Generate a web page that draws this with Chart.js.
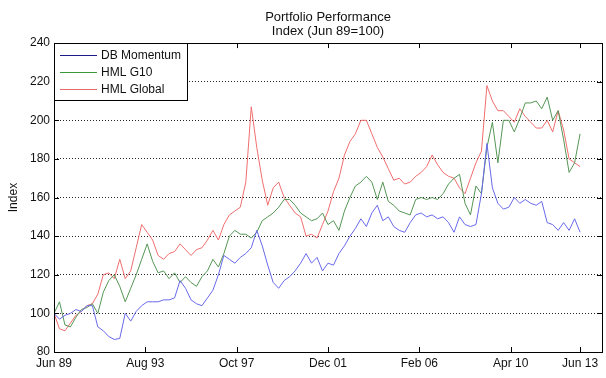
<!DOCTYPE html>
<html>
<head>
<meta charset="utf-8">
<script src="https://cdn.jsdelivr.net/npm/chart.js@4.4.1/dist/chart.umd.min.js"></script>
<style>
  html, body { margin: 0; padding: 0; background: #fff; }
  #wrap { width: 606px; height: 378px; }
</style>
</head>
<body>
<div id="wrap"><canvas id="grafico"></canvas></div>
<script>
// index values, one every 3 months starting Jun 89 (=100)
const monthStep = 3;
const seriesNames = ['DB Momentum', 'HML G10', 'HML Global'];

const dbMomentum = [
  100, 97, 99, 100, 102, 101, 104, 104, 93, 91, 88, 86.5,
  87, 100, 96, 101, 104, 106, 106, 106, 107, 107, 108, 117,
  113, 107, 105, 104, 108, 112, 120, 130, 128, 126, 129, 131,
  134, 143, 135, 125, 116, 113, 117, 119, 122, 126, 131, 126,
  129, 122, 126, 125, 131, 135, 140, 144, 149, 145, 152, 156,
  148, 150, 145, 143, 142, 147, 151, 152, 150, 151, 149, 150,
  147, 142, 150, 146, 145, 146, 162, 188, 165, 157, 154, 155,
  160, 157, 159, 157, 156, 158, 147, 146, 143, 147, 143, 149,
  142
];
const hmlG10 = [
  100, 106, 94, 93, 98, 102, 103, 105, 100, 111, 117, 120,
  114, 106, 113, 120, 128, 136, 127, 121, 122, 118, 121, 116,
  119, 116, 114, 119, 122, 128, 124, 131, 140, 143, 141, 141,
  139, 142, 148, 150, 152, 155, 159, 159, 156, 152, 150, 148,
  149, 152, 146, 148, 143, 153, 160, 166, 168, 171, 168, 159,
  168, 158, 156, 153, 152, 151, 159, 160, 159, 160, 159, 162,
  167, 170, 172, 157, 151, 166, 162, 186, 199, 178, 200, 200,
  194, 201, 209, 209, 210, 206, 212, 200, 205, 190, 173, 178,
  193
];
const hmlGlobal = [
  100, 92, 91, 95, 99, 101, 104, 105, 110, 120, 121, 118,
  128, 118, 122, 134, 146, 142, 138, 130, 128, 131, 132, 136,
  133, 130, 133, 134, 138, 143, 138, 146, 151, 153, 155, 168,
  207, 186, 169, 156, 165, 168, 160, 156, 152, 150, 140, 141,
  139, 146, 153, 163, 170, 182, 189, 193, 200, 200, 193, 186,
  181, 175, 169, 170, 167, 168, 171, 173, 176, 182, 177, 173,
  171, 170, 165, 162, 170, 178, 184, 218, 210, 205, 205, 202,
  199, 206, 202, 199, 196, 196, 200, 194, 205, 195, 180, 178,
  176
];

const xTickMonths = [0, 50, 100, 150, 200, 250, 288];
const xTickLabels = ['Jun 89', 'Aug 93', 'Oct 97', 'Dec 01', 'Feb 06', 'Apr 10', 'Jun 13'];
const yTicks = [80, 100, 120, 140, 160, 180, 200, 220, 240];

const lineColors = ['rgb(105,105,235)', 'rgb(85,150,85)', 'rgb(240,110,110)'];
const legendColors = ['#1c1c8c', '#3a9a3a', '#e66a6a'];
const fam = '"Liberation Sans", Arial, Helvetica, sans-serif';

function toPoints(values) {
  return values.map((v, i) => ({ x: i * monthStep, y: v }));
}

// frame, inward tick marks and the boxed legend
const marcoPlugin = {
  id: 'marco',
  afterDatasetsDraw(chart) {
    const { ctx, chartArea: a, scales } = chart;
    const x = scales.x, y = scales.y;
    ctx.save();
    ctx.strokeStyle = '#000';
    ctx.lineWidth = 1;
    ctx.beginPath();
    xTickMonths.forEach(m => {
      const px = Math.round(x.getPixelForValue(m)) + 0.5;
      ctx.moveTo(px, a.bottom); ctx.lineTo(px, a.bottom - 5);
      ctx.moveTo(px, a.top); ctx.lineTo(px, a.top + 5);
    });
    yTicks.forEach(v => {
      const py = Math.round(y.getPixelForValue(v)) + 0.5;
      ctx.moveTo(a.left, py); ctx.lineTo(a.left + 5, py);
      ctx.moveTo(a.right, py); ctx.lineTo(a.right - 5, py);
    });
    ctx.stroke();
    ctx.strokeRect(Math.round(a.left) + 0.5, Math.round(a.top) + 0.5,
      Math.round(a.right - a.left), Math.round(a.bottom - a.top));

    const lx = Math.round(a.left), ly = Math.round(a.top), lw = 133, lh = 57;
    ctx.fillStyle = '#fff';
    ctx.fillRect(lx, ly, lw, lh);
    ctx.strokeRect(lx + 0.5, ly + 0.5, lw, lh);
    ctx.font = '12px ' + fam;
    ctx.textBaseline = 'middle';
    chart.data.datasets.forEach((ds, i) => {
      const yy = ly + 12 + i * 17;
      ctx.strokeStyle = legendColors[i];
      ctx.beginPath();
      ctx.moveTo(lx + 6, yy + 0.5);
      ctx.lineTo(lx + 43, yy + 0.5);
      ctx.stroke();
      ctx.fillStyle = '#111';
      ctx.fillText(ds.label, lx + 47, yy + 1);
    });
    ctx.restore();
  }
};

const ctx = document.getElementById('grafico').getContext('2d');
new Chart(ctx, {
  type: 'line',
  data: {
    datasets: [dbMomentum, hmlG10, hmlGlobal].map((vals, i) => ({
      label: seriesNames[i],
      data: toPoints(vals),
      borderColor: lineColors[i],
      borderWidth: 1,
      pointRadius: 0,
      tension: 0,
      fill: false
    }))
  },
  options: {
    responsive: true,
    maintainAspectRatio: false,
    animation: false,
    layout: { padding: { left: 0, right: 4, top: 0, bottom: 0 } },
    plugins: {
      legend: { display: false },
      tooltip: { enabled: false },
      title: {
        display: true,
        text: ['Portfolio Performance', 'Index (Jun 89=100)'],
        fullSize: false,
        color: '#111',
        font: { family: fam, size: 13, weight: 'normal', lineHeight: 1.08 },
        padding: { top: 10, bottom: 5 }
      }
    },
    scales: {
      x: {
        type: 'linear',
        min: 0,
        max: 300,
        afterBuildTicks: axis => { axis.ticks = xTickMonths.map(v => ({ value: v })); },
        afterFit: s => { s.height = 26; },
        grid: { display: false, drawTicks: false },
        border: { display: false },
        ticks: {
          autoSkip: false,
          maxRotation: 0,
          color: '#111',
          font: { family: fam, size: 12 },
          padding: 4,
          callback: v => xTickLabels[xTickMonths.indexOf(v)]
        }
      },
      y: {
        min: 80,
        max: 240,
        afterFit: s => { s.width = 54; },
        afterBuildTicks: axis => { axis.ticks = yTicks.map(v => ({ value: v })); },
        grid: { color: 'rgba(0,0,0,0.85)', drawTicks: false },
        border: { display: false, dash: [1, 2] },
        ticks: { color: '#111', font: { family: fam, size: 12 }, padding: 4 },
        title: {
          display: true,
          text: 'Index',
          color: '#111',
          font: { family: fam, size: 12 },
          padding: { top: 6, bottom: 0 }
        }
      }
    }
  },
  plugins: [marcoPlugin]
});
</script>
</body>
</html>
